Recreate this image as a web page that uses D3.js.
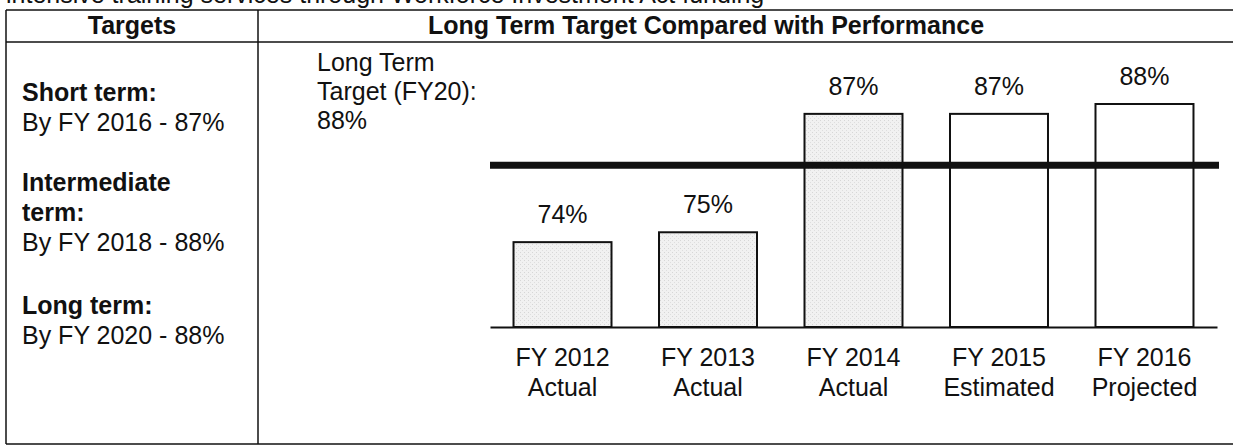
<!DOCTYPE html>
<html>
<head>
<meta charset="utf-8">
<script src="https://cdn.jsdelivr.net/npm/d3@7/dist/d3.min.js"></script>
<style>
  html, body { margin: 0; padding: 0; background: #fff; }
  svg { display: block; }
  text { font-family: "Liberation Sans", Arial, sans-serif; fill: #111; }
</style>
</head>
<body>
<svg id="chart" width="1233" height="448"></svg>
<script>
// ---- data ----
const categories = ["FY 2012", "FY 2013", "FY 2014", "FY 2015", "FY 2016"];
const categoryStatus = ["Actual", "Actual", "Actual", "Estimated", "Projected"];
const values = [74, 75, 87, 87, 88];
const isActual = [true, true, true, false, false];
const targetLineLevel = 81.8;        // position of the thick long-term target line
const baseValue = 65.4;              // value at the baseline (truncated axis)
const topValue = 88;

const headerLeft = "Targets";
const headerRight = "Long Term Target Compared with Performance";
const clippedIntro = "intensive training services through Workforce Investment Act funding";
const longTermNote = ["Long Term", "Target (FY20):", "88%"];
const targetRows = [
  { text: "Short term:", bold: true },
  { text: "By FY 2016 - 87%", bold: false },
  { text: "", bold: false },
  { text: "Intermediate", bold: true },
  { text: "term:", bold: true },
  { text: "By FY 2018 - 88%", bold: false },
  { text: "", bold: false },
  { text: "Long term:", bold: true },
  { text: "By FY 2020 - 88%", bold: false }
];

// ---- drawing ----
const svg = d3.select("#chart");
const FS = 25;

// light stipple fill for the "actual" bars
const defs = svg.append("defs");
const pat = defs.append("pattern").attr("id", "stipple")
  .attr("patternUnits", "userSpaceOnUse").attr("width", 4).attr("height", 4);
pat.append("rect").attr("width", 4).attr("height", 4).attr("fill", "#f1f1f1");
pat.append("rect").attr("x", 0).attr("y", 0).attr("width", 1).attr("height", 1).attr("fill", "#d6d6d6");
pat.append("rect").attr("x", 2).attr("y", 2).attr("width", 1).attr("height", 1).attr("fill", "#dedede");

// clipped sentence at very top
svg.append("text").attr("x", 6).attr("y", 3)
  .style("font-size", FS + "px").text(clippedIntro);

// table frame
const tbl = { left: 6, sep: 258, right: 1240, top: 10, headBottom: 42, bottom: 444 };
const frame = svg.append("g").attr("stroke", "#111").attr("stroke-width", 1.5).attr("fill", "none");
frame.append("line").attr("x1", tbl.left).attr("x2", tbl.right).attr("y1", tbl.top).attr("y2", tbl.top);
frame.append("line").attr("x1", tbl.left).attr("x2", tbl.right).attr("y1", tbl.headBottom).attr("y2", tbl.headBottom);
frame.append("line").attr("x1", tbl.left).attr("x2", tbl.right).attr("y1", tbl.bottom).attr("y2", tbl.bottom);
frame.append("line").attr("x1", tbl.left).attr("x2", tbl.left).attr("y1", tbl.top).attr("y2", tbl.bottom);
frame.append("line").attr("x1", tbl.sep).attr("x2", tbl.sep).attr("y1", tbl.top).attr("y2", tbl.bottom);

// headers
svg.append("text").attr("x", (tbl.left + tbl.sep) / 2).attr("y", 34)
  .attr("text-anchor", "middle").style("font-size", FS + "px").style("font-weight", "bold")
  .text(headerLeft);
svg.append("text").attr("x", 706).attr("y", 34)
  .attr("text-anchor", "middle").style("font-size", FS + "px").style("font-weight", "bold")
  .text(headerRight);

// left column
const rowY = d3.scaleLinear().domain([0, 1]).range([101, 131]);
svg.append("g").selectAll("text").data(targetRows).join("text")
  .attr("x", 22)
  .attr("y", (d, i) => rowY(i) + (i >= 7 ? 3 : 0))
  .style("font-size", FS + "px")
  .style("font-weight", d => d.bold ? "bold" : "normal")
  .text(d => d.text);

// long term note
svg.append("g").selectAll("text").data(longTermNote).join("text")
  .attr("x", 317).attr("y", (d, i) => 71 + i * 29)
  .style("font-size", FS + "px").text(d => d);

// scales
const x = d3.scaleBand().domain(categories).range([490, 1217])
  .paddingInner(0.3265).paddingOuter(0.1616);
const y = d3.scaleLinear().domain([baseValue, topValue]).range([327, 104]);

// bars
svg.append("g").selectAll("rect").data(values).join("rect")
  .attr("x", (d, i) => x(categories[i]))
  .attr("y", d => y(d))
  .attr("width", x.bandwidth())
  .attr("height", d => y(baseValue) - y(d))
  .attr("fill", (d, i) => isActual[i] ? "url(#stipple)" : "#ffffff")
  .attr("stroke", "#111").attr("stroke-width", 2);

// value labels
svg.append("g").selectAll("text").data(values).join("text")
  .attr("x", (d, i) => x(categories[i]) + x.bandwidth() / 2)
  .attr("y", d => y(d) - 19)
  .attr("text-anchor", "middle").style("font-size", FS + "px")
  .text(d => d + "%");

// target line
svg.append("line")
  .attr("x1", x.range()[0]).attr("x2", x.range()[1] + 2)
  .attr("y1", y(targetLineLevel)).attr("y2", y(targetLineLevel))
  .attr("stroke", "#111").attr("stroke-width", 7);

// baseline axis with two-line category labels
const axis = d3.axisBottom(x).tickSize(0).tickPadding(0).tickFormat("");
const gAxis = svg.append("g").attr("transform", `translate(0,${y(baseValue)})`).call(axis);
gAxis.select(".domain").attr("stroke", "#111").attr("stroke-width", 2);
gAxis.selectAll(".tick").each(function(d, i) {
  const t = d3.select(this).append("text")
    .attr("text-anchor", "middle").style("font-size", FS + "px").attr("fill", "#111");
  t.append("tspan").attr("x", 0).attr("y", 39).text(categories[i]);
  t.append("tspan").attr("x", 0).attr("y", 69).text(categoryStatus[i]);
});
</script>
</body>
</html>
